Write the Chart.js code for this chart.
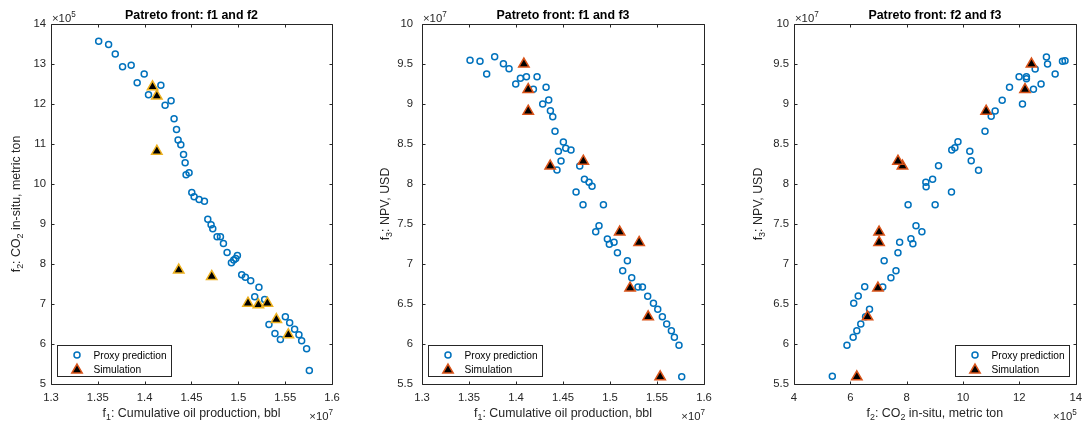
<!DOCTYPE html>
<html>
<head>
<meta charset="utf-8">
<script src="https://cdn.jsdelivr.net/npm/chart.js@4.4.1/dist/chart.umd.min.js"></script>
<style>
    body { margin: 0; background: #fff; }
    #wrap { position: relative; width: 1089px; height: 428px; }
    #wrap canvas { position: absolute; top: 0; }
</style>
</head>
<body>
<div id="wrap">
    <canvas id="c1" width="362" height="428" style="left:0"></canvas>
    <canvas id="c2" width="373" height="428" style="left:362px"></canvas>
    <canvas id="c3" width="354" height="428" style="left:735px"></canvas>
</div>
<script>
const FONT = '"Liberation Sans", Arial, Helvetica, sans-serif';
const AXIS_COLOR = '#262626';
const BLUE = '#0072BD';
const ORANGE = '#D95319';
const GOLD = '#EDB120';

// Simulation runs, same points on all three fronts
// f1 in 1e7 bbl, f2 in 1e5 t, f3 in 1e7 USD
const simF1 = [1.4084, 1.413, 1.413, 1.4364, 1.4716, 1.5103, 1.5214, 1.531, 1.5406, 1.5534];
const simF2 = [12.43, 12.20, 10.82, 7.85, 7.69, 7.02, 6.98, 7.02, 6.61, 6.23];
const simF3 = [9.50, 9.18, 8.91, 8.225, 8.285, 7.40, 6.70, 7.27, 6.34, 5.59];

// Proxy predictions, f1 vs f2
const f12ProxyF1 = [1.3509, 1.3615, 1.3686, 1.3764, 1.3856, 1.3995, 1.392, 1.4173, 1.4041, 1.4218,
    1.4282, 1.4314, 1.434, 1.4357, 1.4386, 1.4415, 1.4432, 1.4474, 1.4442, 1.4503,
    1.4528, 1.4581, 1.4638, 1.4674, 1.4709, 1.4727, 1.4773, 1.4809, 1.4841, 1.488,
    1.4926, 1.4972, 1.499, 1.4951, 1.5036, 1.5075, 1.5132, 1.522, 1.5175, 1.5281,
    1.5327, 1.5391, 1.5449, 1.5502, 1.5548, 1.5601, 1.5647, 1.5676, 1.5729, 1.5758];
const f12ProxyF2 = [13.57, 13.49, 13.25, 12.93, 12.97, 12.75, 12.53, 12.47, 12.23, 11.97,
    12.08, 11.63, 11.36, 11.10, 10.98, 10.74, 10.53, 10.28, 10.23, 9.79,
    9.68, 9.61, 9.57, 9.12, 8.98, 8.88, 8.68, 8.68, 8.51, 8.29,
    8.03, 8.14, 8.21, 8.10, 7.73, 7.67, 7.58, 7.42, 7.18, 7.11,
    6.49, 6.26, 6.11, 6.68, 6.53, 6.37, 6.23, 6.08, 5.88, 5.34];

// Proxy predictions, f1 vs f3
const f13ProxyF1 = [1.3511, 1.3617, 1.3688, 1.3773, 1.3866, 1.3926, 1.3997, 1.4047, 1.4111, 1.4185,
    1.4224, 1.432, 1.4348, 1.4284, 1.4366, 1.4391, 1.4415, 1.4504, 1.4529, 1.4585,
    1.4451, 1.4479, 1.4436, 1.4678, 1.4728, 1.4777, 1.4809, 1.4639, 1.4713, 1.493,
    1.4883, 1.4848, 1.4972, 1.5043, 1.4993, 1.5079, 1.5185, 1.5135, 1.5231, 1.5298,
    1.5345, 1.5401, 1.5462, 1.5508, 1.5557, 1.5603, 1.5653, 1.5685, 1.5734, 1.5763];
const f13ProxyF3 = [9.546, 9.533, 9.375, 9.592, 9.504, 9.442, 9.25, 9.321, 9.342, 9.184,
    9.342, 9.209, 9.05, 9.0, 8.917, 8.842, 8.659, 8.525, 8.446, 8.425,
    8.409, 8.288, 8.175, 8.225, 8.059, 8.021, 7.971, 7.9, 7.741, 7.741,
    7.479, 7.404, 7.313, 7.271, 7.246, 7.141, 7.041, 6.916, 6.829, 6.713,
    6.713, 6.596, 6.509, 6.434, 6.341, 6.25, 6.166, 6.084, 5.984, 5.591];

// Proxy predictions, f2 vs f3
const f23ProxyF2 = [12.96, 13.0, 13.53, 13.62, 13.27, 12.77, 12.56, 12.25, 12.25, 11.99,
    12.5, 11.65, 11.39, 12.11, 11.14, 11.0, 10.78, 9.82, 9.71, 9.6,
    10.24, 10.29, 9.13, 10.55, 8.92, 8.68, 8.69, 9.59, 8.05, 9.01,
    8.33, 8.54, 8.15, 8.22, 7.75, 7.69, 7.2, 7.62, 7.44, 7.15,
    6.51, 6.28, 6.12, 6.68, 6.54, 6.37, 6.23, 6.1, 5.88, 5.36];
const f23ProxyF3 = [9.588, 9.5, 9.534, 9.541, 9.375, 9.25, 9.438, 9.342, 9.316, 9.342,
    9.184, 9.209, 9.046, 9.0, 8.913, 8.846, 8.659, 8.529, 8.454, 8.425,
    8.409, 8.291, 8.229, 8.171, 8.059, 8.021, 7.966, 7.9, 7.741, 7.741,
    7.479, 7.404, 7.316, 7.254, 7.271, 7.141, 7.041, 6.916, 6.829, 6.713,
    6.716, 6.6, 6.509, 6.434, 6.341, 6.25, 6.166, 6.084, 5.984, 5.596];

// Tick values
const oilTicks = [1.3, 1.35, 1.4, 1.45, 1.5, 1.55, 1.6];
const co2Ticks = [5, 6, 7, 8, 9, 10, 11, 12, 13, 14];
const co2WideTicks = [4, 6, 8, 10, 12, 14];
const npvTicks = [5.5, 6, 6.5, 7, 7.5, 8, 8.5, 9, 9.5, 10];

const oilLabel = [['f'], ['1', 'sub'], [': Cumulative oil production, bbl']];
const co2Label = [['f'], ['2', 'sub'], [': CO'], ['2', 'sub'], [' in-situ, metric ton']];
const npvLabel = [['f'], ['3', 'sub'], [': NPV, USD']];

const panels = [
    {
        id: 'c1', title: 'Patreto front: f1 and f2',
        px: f12ProxyF1, py: f12ProxyF2, sx: simF1, sy: simF2,
        xTicks: oilTicks, yTicks: co2Ticks, xLabel: oilLabel, yLabel: co2Label,
        xExp: '7', yExp: '5', plotLeft: 51, padRight: 30, yLabelGap: 31, tickPad: 5,
        simEdge: GOLD, legendSide: 'left'
    },
    {
        id: 'c2', title: 'Patreto front: f1 and f3',
        px: f13ProxyF1, py: f13ProxyF3, sx: simF1, sy: simF3,
        xTicks: oilTicks, yTicks: npvTicks, xLabel: oilLabel, yLabel: npvLabel,
        xExp: '7', yExp: '7', plotLeft: 60, padRight: 31, yLabelGap: 33, tickPad: 9,
        simEdge: ORANGE, legendSide: 'left'
    },
    {
        id: 'c3', title: 'Patreto front: f2 and f3',
        px: f23ProxyF2, py: f23ProxyF3, sx: simF2, sy: simF3,
        xTicks: co2WideTicks, yTicks: npvTicks, xLabel: co2Label, yLabel: npvLabel,
        xExp: '5', yExp: '7', plotLeft: 59, padRight: 13, yLabelGap: 32, tickPad: 5,
        simEdge: ORANGE, legendSide: 'right'
    }
];

// Text with sub/superscript pieces; anchor is 'left', 'center' or 'right'
function richText(ctx, parts, x, y, size, anchor) {
    const fonts = parts.map(p => (p[1] ? size * 0.72 : size) + 'px ' + FONT);
    let w = 0;
    parts.forEach((p, i) => { ctx.font = fonts[i]; w += ctx.measureText(p[0]).width; });
    let cx = anchor === 'center' ? x - w / 2 : anchor === 'right' ? x - w : x;
    ctx.textAlign = 'left';
    ctx.textBaseline = 'alphabetic';
    parts.forEach((p, i) => {
        ctx.font = fonts[i];
        const dy = p[1] === 'sub' ? size * 0.28 : p[1] === 'sup' ? -size * 0.42 : 0;
        ctx.fillText(p[0], cx, y + dy);
        cx += ctx.measureText(p[0]).width;
    });
}

function drawLegend(ctx, a, p) {
    const w = 114, h = 31;
    const bx = Math.round(p.legendSide === 'left' ? a.left + 6 : a.right - 7 - w);
    const by = Math.round(a.bottom - 8 - h);
    ctx.fillStyle = '#fff';
    ctx.fillRect(bx, by, w, h);
    ctx.strokeStyle = AXIS_COLOR;
    ctx.lineWidth = 1;
    ctx.strokeRect(bx + 0.5, by + 0.5, w, h);

    const mx = bx + 20;
    ctx.lineWidth = 1.5;
    ctx.strokeStyle = BLUE;
    ctx.fillStyle = 'rgba(0,0,0,0)';
    Chart.helpers.drawPoint(ctx, { pointStyle: 'circle', radius: 3, borderWidth: 1.5, rotation: 0 }, mx, by + 10);
    ctx.strokeStyle = ORANGE;
    ctx.fillStyle = '#000';
    Chart.helpers.drawPoint(ctx, { pointStyle: 'triangle', radius: 6, borderWidth: 1.5, rotation: 0 }, mx, by + 25);

    ctx.fillStyle = '#000';
    ctx.font = '10.2px ' + FONT;
    ctx.textAlign = 'left';
    ctx.textBaseline = 'alphabetic';
    ctx.fillText('Proxy prediction', bx + 36.5, by + 13.5);
    ctx.fillText('Simulation', bx + 36.5, by + 27.5);
}

// Box, inward ticks on all sides, titles, exponents and legend
function makeFrame(p) {
    return {
        id: 'frame',
        afterDraw(chart) {
            const ctx = chart.ctx;
            const a = chart.chartArea;
            const L = Math.round(a.left) + 0.5, R = Math.round(a.right) + 0.5;
            const T = Math.round(a.top) + 0.5, B = Math.round(a.bottom) + 0.5;
            ctx.save();
            ctx.strokeStyle = AXIS_COLOR;
            ctx.lineWidth = 1;
            ctx.beginPath();
            ctx.rect(L, T, R - L, B - T);
            chart.scales.x.ticks.forEach(t => {
                const x = Math.round(chart.scales.x.getPixelForValue(t.value)) + 0.5;
                ctx.moveTo(x, B); ctx.lineTo(x, B - 3);
                ctx.moveTo(x, T); ctx.lineTo(x, T + 3);
            });
            chart.scales.y.ticks.forEach(t => {
                const y = Math.round(chart.scales.y.getPixelForValue(t.value)) + 0.5;
                ctx.moveTo(L, y); ctx.lineTo(L + 3, y);
                ctx.moveTo(R, y); ctx.lineTo(R - 3, y);
            });
            ctx.stroke();

            const midX = (a.left + a.right) / 2;
            const midY = (a.top + a.bottom) / 2;

            ctx.fillStyle = '#000';
            ctx.font = 'bold 12.4px ' + FONT;
            ctx.textAlign = 'center';
            ctx.textBaseline = 'alphabetic';
            ctx.fillText(p.title, midX, 19);

            ctx.fillStyle = AXIS_COLOR;
            richText(ctx, p.xLabel, midX, 417, 12.4, 'center');
            ctx.save();
            ctx.translate(a.left - p.yLabelGap, midY);
            ctx.rotate(-Math.PI / 2);
            richText(ctx, p.yLabel, 0, 0, 12.4, 'center');
            ctx.restore();

            richText(ctx, [['\u00d710'], [p.xExp, 'sup']], a.right + 1, 420, 11.3, 'right');
            richText(ctx, [['\u00d710'], [p.yExp, 'sup']], a.left + 1, 21.5, 11.3, 'left');

            drawLegend(ctx, a, p);
            ctx.restore();
        }
    };
}

function fmt(v) {
    return String(+v.toFixed(2));
}

panels.forEach(p => {
    const tickFont = { family: FONT, size: 11.3 };
    new Chart(document.getElementById(p.id), {
        type: 'scatter',
        data: {
            datasets: [
                {
                    label: 'Simulation',
                    data: p.sx.map((x, i) => ({ x: x, y: p.sy[i] })),
                    pointStyle: 'triangle',
                    pointRadius: 6,
                    pointBorderWidth: 1.5,
                    pointBackgroundColor: '#000',
                    pointBorderColor: p.simEdge,
                    order: 0
                },
                {
                    label: 'Proxy prediction',
                    data: p.px.map((x, i) => ({ x: x, y: p.py[i] })),
                    pointStyle: 'circle',
                    pointRadius: 3,
                    pointBorderWidth: 1.5,
                    pointBackgroundColor: 'rgba(0,0,0,0)',
                    pointBorderColor: BLUE,
                    order: 1
                }
            ]
        },
        options: {
            responsive: false,
            animation: false,
            devicePixelRatio: 1,
            events: [],
            layout: { padding: { top: 24, right: p.padRight, left: 0, bottom: 0 } },
            plugins: { legend: { display: false }, tooltip: { enabled: false } },
            scales: {
                x: {
                    type: 'linear',
                    min: p.xTicks[0],
                    max: p.xTicks[p.xTicks.length - 1],
                    grid: { display: false, drawTicks: false },
                    border: { display: false },
                    ticks: { color: AXIS_COLOR, font: tickFont, padding: 7, maxRotation: 0, autoSkip: false, callback: fmt },
                    afterBuildTicks: s => { s.ticks = p.xTicks.map(v => ({ value: v })); },
                    afterFit: s => { s.height = 44; }
                },
                y: {
                    type: 'linear',
                    min: p.yTicks[0],
                    max: p.yTicks[p.yTicks.length - 1],
                    grid: { display: false, drawTicks: false },
                    border: { display: false },
                    ticks: { color: AXIS_COLOR, font: tickFont, padding: p.tickPad, autoSkip: false, callback: fmt },
                    afterBuildTicks: s => { s.ticks = p.yTicks.map(v => ({ value: v })); },
                    afterFit: s => { s.width = p.plotLeft; }
                }
            }
        },
        plugins: [makeFrame(p)]
    });
});
</script>
</body>
</html>
